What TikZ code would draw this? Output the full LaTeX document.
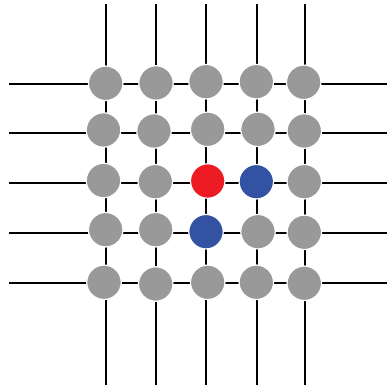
\documentclass[tikz,border=0pt]{standalone}
\definecolor{dotgray}{RGB}{153,153,153}
\definecolor{dotred}{RGB}{237,28,36}
\definecolor{dotblue}{RGB}{51,83,162}
\begin{document}
\begin{tikzpicture}[x=1pt,y=-1pt,
  wire/.style={line width=2pt,black},
  dot/.style={circle,minimum size=34.5pt,inner sep=0pt,draw=white,line width=1.2pt,fill=dotgray},
  hot/.style={dot,fill=dotred},
  cold/.style={dot,fill=dotblue}]
\useasboundingbox (0,0) rectangle (387,389);
% vertical wires, one per column
\foreach \x [count=\i] in {106,156,206,256.5,304.5} {
  \coordinate (top\i) at (\x,4);
  \coordinate (bot\i) at (\x,385);
  \draw[wire] (top\i) -- (bot\i);
}
% horizontal wires, one per row
\foreach \y [count=\j] in {84,132.5,182.5,232.5,283} {
  \coordinate (lft\j) at (9,\y);
  \coordinate (rgt\j) at (387,\y);
  \draw[wire] (lft\j) -- (rgt\j);
}
% lattice sites
\node[dot] (n11) at (105.7,83.3) {};
\node[dot] (n12) at (156,83) {};
\node[dot] (n13) at (206,81.7) {};
\node[dot] (n14) at (256.3,81.7) {};
\node[dot] (n15) at (303.7,82.3) {};
\node[dot] (n21) at (103.5,130) {};
\node[dot] (n22) at (154,131) {};
\node[dot] (n23) at (207.7,129.3) {};
\node[dot] (n24) at (258,129.3) {};
\node[dot] (n25) at (304.3,131) {};
\node[dot] (n31) at (103.5,180.5) {};
\node[dot] (n32) at (155.3,181.7) {};
\node[hot] (n33) at (207.7,181) {};
\node[cold] (n34) at (256.3,181.7) {};
\node[dot] (n35) at (304.3,181.7) {};
\node[dot] (n41) at (105.7,229.7) {};
\node[dot] (n42) at (155.7,229.7) {};
\node[cold] (n43) at (206,231.7) {};
\node[dot] (n44) at (258,231.7) {};
\node[dot] (n45) at (304.3,232.3) {};
\node[dot] (n51) at (104,282.3) {};
\node[dot] (n52) at (155.7,284) {};
\node[dot] (n53) at (207.7,282.3) {};
\node[dot] (n54) at (256.3,282.3) {};
\node[dot] (n55) at (304.3,283.3) {};
\end{tikzpicture}
\end{document}
